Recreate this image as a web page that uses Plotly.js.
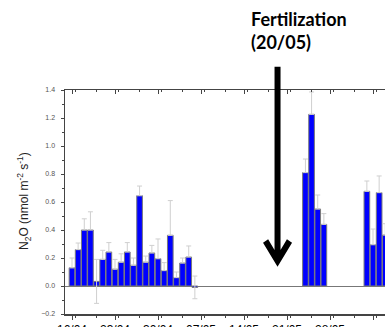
<!DOCTYPE html>
<html>
<head>
<meta charset="utf-8">
<script src="https://cdn.plot.ly/plotly-3.0.1.min.js"></script>
<style>html,body{margin:0;padding:0;background:#fff;}#chart{width:385px;height:327px;}</style>
</head>
<body>
<div id="chart"></div>
<script>
// Daily N2O flux (nmol m-2 s-1) with error (upper half-width)
var dates = [
  '2013-04-16','2013-04-17','2013-04-18','2013-04-19','2013-04-20','2013-04-21','2013-04-22',
  '2013-04-23','2013-04-24','2013-04-25','2013-04-26','2013-04-27','2013-04-28','2013-04-29',
  '2013-04-30','2013-05-01','2013-05-02','2013-05-03','2013-05-04','2013-05-05','2013-05-06',
  '2013-05-24','2013-05-25','2013-05-26','2013-05-27',
  '2013-06-03','2013-06-04','2013-06-05','2013-06-06'
];
var n2o = [
  0.13, 0.26, 0.40, 0.40, 0.033, 0.19, 0.243,
  0.12, 0.17, 0.243, 0.148, 0.645, 0.17, 0.236,
  0.195, 0.11, 0.362, 0.06, 0.164, 0.207, -0.01,
  0.81, 1.226, 0.55, 0.44,
  0.676, 0.295, 0.667, 0.364
];
var n2oErr = [
  0.07, 0.047, 0.08, 0.13, 0.157, 0.065, 0.067,
  0.07, 0.06, 0.067, 0.052, 0.069, 0.044, 0.054,
  0.141, 0.057, 0.248, 0.04, 0.036, 0.079, 0.081,
  0.097, 0.16, 0.10, 0.077,
  0.074, 0.112, 0.119, 0.081
];
var tickStart = '2013-04-16';
var xRange = ['2013-04-14 20:39', '2013-06-05 22:52'];
var yRange = [-0.2, 1.4];
var fertDate = '2013-05-19 11:00';
var arrowTipValue = 0.137;

// lower error only shows where it reaches below the baseline
var errMinus = n2o.map(function(v, i){ return (v - n2oErr[i] < 0) ? n2oErr[i] : 0; });

var DAY = 86400000;

// arrow anchor in paper fractions, derived from the axis ranges
function toMs(s){ return Date.parse(s.replace(' ', 'T') + (s.length <= 10 ? 'T00:00:00Z' : ':00Z')); }
var fx = (toMs(fertDate) - toMs(xRange[0])) / (toMs(xRange[1]) - toMs(xRange[0]));
var fy = (arrowTipValue - yRange[0]) / (yRange[1] - yRange[0]);

var traces = [
  {
    type: 'bar',
    x: dates,
    y: n2o,
    width: dates.map(function(){ return DAY * 0.92; }),
    marker: {color: '#0000ff', line: {color: '#7a7a7a', width: 1}},
    error_y: {type: 'data', symmetric: false, array: n2oErr, arrayminus: errMinus,
              color: '#cfcfcf', thickness: 1, width: 2.5},
    hoverinfo: 'skip',
    showlegend: false
  },
  {
    type: 'scatter', mode: 'markers',
    x: [dates[0]], y: [null],
    xaxis: 'x2', yaxis: 'y',
    hoverinfo: 'skip', showlegend: false
  }
];

var axCommon = {
  type: 'date',
  range: xRange,
  tick0: tickStart,
  dtick: 7 * DAY,
  showgrid: false,
  zeroline: false,
  showline: true,
  linecolor: '#444',
  linewidth: 1.5,
  automargin: false
};

var layout = {
  width: 385,
  height: 327,
  margin: {l: 65, r: 0, t: 89.5, b: 13},
  paper_bgcolor: '#ffffff',
  plot_bgcolor: '#ffffff',
  bargap: 0,
  font: {family: 'Liberation Sans, Arial, sans-serif', color: '#000'},
  xaxis: Object.assign({}, axCommon, {
    ticks: 'outside',
    ticklen: 4,
    tickwidth: 1,
    tickcolor: '#444',
    tickformat: '%d/%m',
    tickfont: {size: 12, color: '#000'},
    minor: {dtick: 3.5 * DAY, ticks: 'outside', ticklen: 2, tickcolor: '#444'}
  }),
  xaxis2: Object.assign({}, axCommon, {
    overlaying: 'x',
    side: 'top',
    anchor: 'y',
    ticks: 'inside',
    ticklen: 4,
    tickwidth: 1,
    tickcolor: '#444',
    showticklabels: false,
    minor: {dtick: 3.5 * DAY, ticks: 'inside', ticklen: 2, tickcolor: '#444'}
  }),
  yaxis: {
    range: yRange,
    dtick: 0.2,
    tick0: 0,
    tickformat: '.1f',
    ticks: 'outside',
    ticklen: 3,
    tickcolor: '#444',
    ticklabelstandoff: 4,
    tickfont: {size: 7, color: '#555'},
    minor: {dtick: 0.1, ticks: 'outside', ticklen: 2, tickcolor: '#444'},
    showgrid: false,
    showline: true,
    linecolor: '#444',
    linewidth: 1.5,
    zeroline: true,
    zerolinecolor: '#777',
    zerolinewidth: 1,
    automargin: false
  },
  shapes: [
    {
      type: 'path',
      xref: 'paper', yref: 'paper',
      xsizemode: 'pixel', ysizemode: 'pixel',
      xanchor: fx, yanchor: fy,
      path: 'M0,0 L-14.5,24 L-9.4,27.6 L-3,16.8 L-3,200 L3,200 L3,16.8 L9.4,27.6 L14.5,24 Z',
      fillcolor: '#000',
      line: {width: 0},
      layer: 'above'
    }
  ],
  annotations: [
    {
      xref: 'paper', yref: 'paper',
      x: 0.575, y: 1.375,
      xanchor: 'left', yanchor: 'top', align: 'left',
      showarrow: false,
      text: '<b>Fertilization</b><br><b>(20/05)</b>',
      font: {family: 'Lato, sans-serif', size: 18, color: '#000'}
    },
    {
      xref: 'paper', yref: 'paper',
      x: -0.128, y: 0.505,
      xanchor: 'center', yanchor: 'middle',
      textangle: -90,
      showarrow: false,
      text: 'N<sub>2</sub>O (nmol m<sup>-2</sup> s<sup>-1</sup>)',
      font: {family: 'Liberation Sans, Arial, sans-serif', size: 12, color: '#222'}
    }
  ]
};

Plotly.newPlot('chart', traces, layout, {displayModeBar: false, staticPlot: true});
</script>
</body>
</html>
